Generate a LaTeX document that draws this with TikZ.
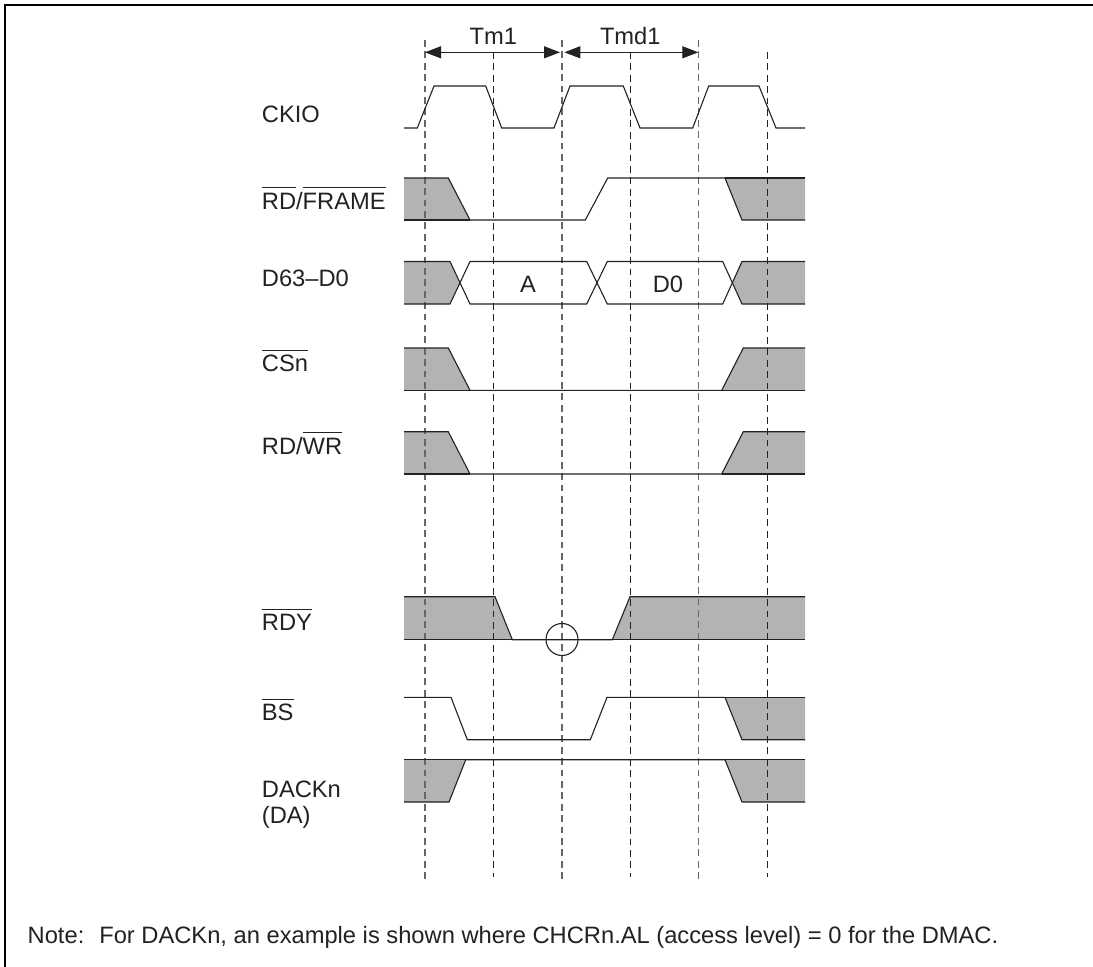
\documentclass[tikz,border=0pt]{standalone}
\usepackage{fontspec}
\setmainfont{Liberation Sans}
\usetikzlibrary{arrows.meta}
\definecolor{shade}{HTML}{B3B3B3}
\definecolor{ink}{HTML}{222222}
\newcommand\ovl[1]{\setbox0\hbox{#1}\rlap{\rule[21pt]{\wd0}{0.9pt}}\box0}
\tikzset{
  sig/.style={draw=ink,line width=1.1pt,line join=miter},
  zone/.style={fill=shade,draw=none},
  guide/.style={draw=ink,line width=1pt,dash pattern=on 6.8pt off 4.6pt},
  softguide/.style={draw=black!60,line width=1.3pt,dash pattern=on 6.8pt off 4.6pt},
  span/.style={draw=ink,line width=1.1pt,{Triangle[length=16pt,width=12pt]}-{Triangle[length=16pt,width=12pt]}},
  lab/.style={anchor=base west,inner sep=0pt,text=ink,font=\fontsize{23.7}{27}\selectfont},
  mid/.style={anchor=base,inner sep=0pt,text=ink,font=\fontsize{23.7}{27}\selectfont},
}
\begin{document}
\begin{tikzpicture}[x=1pt,y=-1pt]
\useasboundingbox (0,0) rectangle (1093,967);
\fill[white] (0,0) rectangle (1093,967);
\draw[line width=2.2pt,black] (5,967) -- (5,5) -- (1093,5);

% grey zones
\fill[zone] (404,178) -- (448.3,178) -- (470,220) -- (404,220) -- cycle;
\fill[zone] (805,178) -- (725,178) -- (742,220) -- (805,220) -- cycle;
\fill[zone] (404,261.5) -- (450,261.5) -- (459.3,283) -- (450,304) -- (404,304) -- cycle;
\fill[zone] (805,261.5) -- (742,261.5) -- (732.7,283) -- (742,304) -- (805,304) -- cycle;
\fill[zone] (404,348) -- (448.3,348) -- (470,390.3) -- (404,390.3) -- cycle;
\fill[zone] (805,348) -- (743.3,348) -- (721.7,390.3) -- (805,390.3) -- cycle;
\fill[zone] (404,431.7) -- (448.3,431.7) -- (470,474) -- (404,474) -- cycle;
\fill[zone] (805,431.7) -- (743.3,431.7) -- (721.7,474) -- (805,474) -- cycle;
\fill[zone] (404,596.7) -- (495,596.7) -- (512.3,639.7) -- (404,639.7) -- cycle;
\fill[zone] (805,596.7) -- (630,596.7) -- (612.3,639.7) -- (805,639.7) -- cycle;
\fill[zone] (805,697.3) -- (725,697.3) -- (742,739.7) -- (805,739.7) -- cycle;
\fill[zone] (404,759.7) -- (465.7,759.7) -- (449,802) -- (404,802) -- cycle;
\fill[zone] (805,759.7) -- (725,759.7) -- (742,802) -- (805,802) -- cycle;

% guides
\foreach \gx in {425,562,698.7}
  \draw[softguide] (\gx,40) -- (\gx,882);
\foreach \gx in {493.5,630.5,767.5}
  \draw[guide] (\gx,52) -- (\gx,877);

% signals
\draw[sig] (404,128) -- (417.3,128) -- (434,86) -- (485.7,86) -- (501.7,128) -- (554,128) -- (570,86) -- (623.3,86) -- (640,128) -- (692.7,128) -- (708.7,86) -- (759,86) -- (776,128) -- (805,128);

\draw[sig] (404,178) -- (448.3,178) -- (470,220) -- (585.3,220) -- (607.7,178) -- (725,178) -- (742,220) -- (805,220);
\draw[sig] (404,220) -- (470,220);
\draw[sig] (725,178) -- (805,178);

\draw[sig] (404,261.5) -- (450,261.5) -- (470,304) -- (586.7,304) -- (607.3,261.5) -- (722.7,261.5) -- (742,304) -- (805,304);
\draw[sig] (404,304) -- (450,304) -- (470,261.5) -- (586.7,261.5) -- (607.3,304) -- (722.7,304) -- (742,261.5) -- (805,261.5);

\draw[sig] (404,348) -- (448.3,348) -- (470,390.3) -- (721.7,390.3) -- (743.3,348) -- (805,348);
\draw[sig] (404,390.3) -- (470,390.3);
\draw[sig] (721.7,390.3) -- (805,390.3);

\draw[sig] (404,431.7) -- (448.3,431.7) -- (470,474) -- (721.7,474) -- (743.3,431.7) -- (805,431.7);
\draw[sig] (404,474) -- (470,474);
\draw[sig] (721.7,474) -- (805,474);

\draw[sig] (404,596.7) -- (495,596.7) -- (512.3,639.7) -- (612.3,639.7) -- (630,596.7) -- (805,596.7);
\draw[sig] (404,639.7) -- (512.3,639.7);
\draw[sig] (612.3,639.7) -- (805,639.7);

\draw[sig] (404,697.3) -- (451,697.3) -- (467.3,739.7) -- (590.3,739.7) -- (607,697.3) -- (725,697.3) -- (742,739.7) -- (805,739.7);
\draw[sig] (725,697.3) -- (805,697.3);

\draw[sig] (404,802) -- (449,802) -- (465.7,759.7) -- (725,759.7) -- (742,802) -- (805,802);
\draw[sig] (404,759.7) -- (465.7,759.7);
\draw[sig] (725,759.7) -- (805,759.7);

% sampling circle
\node[draw=ink,line width=1.1pt,circle,minimum size=32pt,inner sep=0pt] (samp) at (562,639.5) {};

% spans
\coordinate (a1) at (425,52.3);
\coordinate (a2) at (560,52.3);
\coordinate (b1) at (564.3,52.3);
\coordinate (b2) at (698.3,52.3);
\draw[span] (a1) -- (a2);
\draw[span] (b1) -- (b2);
\node[mid] (tm) at (493.3,44.5) {Tm1};
\node[mid] (tmd) at (630.3,44.5) {Tmd1};

% labels
\node[lab] (ckio) at (261.7,122) {CKIO};
\node[lab] (frame) at (261.7,209) {\ovl{RD}/\ovl{FRAME}};
\node[lab] (data) at (261.7,286.7) {D63–D0};
\node[lab] (cs) at (261.7,371.7) {\ovl{CSn}};
\node[lab] (rw) at (261.7,454) {RD/\ovl{WR}};
\node[lab] (rdy) at (261.7,630.7) {\ovl{RDY}};
\node[lab] (bs) at (261.7,720.7) {\ovl{BS}};
\node[lab] (dack) at (261.7,797) {DACKn};
\node[lab] (da) at (261.7,823) {(DA)};
\node[mid] (va) at (528,292) {A};
\node[mid] (vd) at (668,292) {D0};
\node[lab] (note) at (27.5,943.5) {Note:\hspace{15pt}For DACKn, an example is shown where CHCRn.AL (access level) = 0 for the DMAC.};
\end{tikzpicture}
\end{document}
